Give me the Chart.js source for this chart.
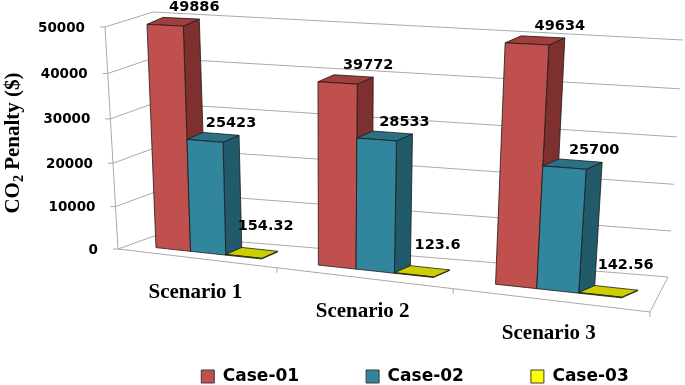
<!DOCTYPE html>
<html lang="en">
<head>
  <meta charset="UTF-8">
  <title>CO2 Penalty</title>
  <script src="https://cdn.jsdelivr.net/npm/chart.js@4.4.0/dist/chart.umd.min.js"></script>
  <style>
    html, body { margin: 0; padding: 0; background: #fff; }
    #chartContainer { width: 685px; height: 385px; }
  </style>
</head>
<body>
  <div id="chartContainer"><canvas id="chart"></canvas></div>
  <script>
    // data
    const scenarios = ['Scenario 1', 'Scenario 2', 'Scenario 3'];
    const seriesNames = ['Case-01', 'Case-02', 'Case-03'];
    const case01 = [49886, 39772, 49634];
    const case02 = [25423, 28533, 25700];
    const case03 = [154.32, 123.6, 142.56];
    const yTicks = [0, 10000, 20000, 30000, 40000, 50000];

    // corners of the 3d box: front plane and back wall (tl, tr, br, bl)
    const frontQuad = [[105, 27], [672, 53], [650, 312], [118, 249]];
    const backQuad = [[153, 12], [683, 40], [668, 277], [157, 235]];
    const barFront = 0.3;        // depth of the bars' front faces in the box
    const barDepth = [16, -7];   // on-screen depth of a bar

    const faces = [
      { front: '#C0504D', side: '#7D302E', top: '#A03F3C', label: [-5, -12] },
      { front: '#31859C', side: '#215A69', top: '#2A7186', label: [-8, -12] },
      { front: '#C8C800', side: '#8F8F00', top: '#CDCD00', label: [-12, -25] }
    ];

    // square -> quad projective map (tl, tr, br, bl)
    function quadMap(q) {
      const [x0, y0] = q[0], [x1, y1] = q[1], [x2, y2] = q[2], [x3, y3] = q[3];
      const dx1 = x1 - x2, dx2 = x3 - x2, dx3 = x0 - x1 + x2 - x3;
      const dy1 = y1 - y2, dy2 = y3 - y2, dy3 = y0 - y1 + y2 - y3;
      const den = dx1 * dy2 - dx2 * dy1;
      const g = (dx3 * dy2 - dx2 * dy3) / den;
      const h = (dx1 * dy3 - dx3 * dy1) / den;
      const a = x1 - x0 + g * x1, b = x3 - x0 + h * x3, c = x0;
      const d = y1 - y0 + g * y1, e = y3 - y0 + h * y3, f = y0;
      return function (u, v) {
        const z = g * u + h * v + 1;
        return [(a * u + b * v + c) / z, (d * u + e * v + f) / z];
      };
    }
    const frontMap = quadMap(frontQuad);
    const backMap = quadMap(backQuad);
    function P(u, v, w) {
      const f = frontMap(u, v), b = backMap(u, v);
      return [f[0] + (b[0] - f[0]) * w, f[1] + (b[1] - f[1]) * w];
    }
    function back(p) {
      return [p[0] + barDepth[0], p[1] + barDepth[1]];
    }

    function line(ctx, pts) {
      ctx.beginPath();
      ctx.moveTo(pts[0][0], pts[0][1]);
      for (let k = 1; k < pts.length; k++) ctx.lineTo(pts[k][0], pts[k][1]);
      ctx.stroke();
    }
    function poly(ctx, pts, fill) {
      ctx.beginPath();
      ctx.moveTo(pts[0][0], pts[0][1]);
      for (let k = 1; k < pts.length; k++) ctx.lineTo(pts[k][0], pts[k][1]);
      ctx.closePath();
      ctx.fillStyle = fill;
      ctx.fill();
      ctx.stroke();
    }

    const box3d = {
      id: 'box3d',
      beforeDatasetsDraw(chart) {
        const ctx = chart.ctx, area = chart.chartArea;
        const xs = chart.scales.x, ys = chart.scales.y;
        const U = px => (px - area.left) / area.width;
        const V = py => (py - area.top) / area.height;
        ctx.save();

        // walls and floor
        ctx.strokeStyle = '#a9a9a9';
        ctx.lineWidth = 1;
        yTicks.forEach(t => {
          const v = V(ys.getPixelForValue(t));
          line(ctx, [P(0, v, 0), P(0, v, 1), P(1, v, 1)]);
          const p = P(0, v, 0);
          line(ctx, [[p[0] - 5, p[1]], p]);
        });
        line(ctx, [P(0, 0, 0), P(0, 1, 0)]);
        line(ctx, [P(0, 1, 0), P(1, 1, 0), P(1, 1, 1)]);
        const half = (xs.getPixelForValue(1) - xs.getPixelForValue(0)) / 2;
        scenarios.forEach((s, j) => {
          const p = P(U(xs.getPixelForValue(j) + half), 1, 0);
          line(ctx, [p, [p[0], p[1] + 5]]);
        });

        // bars, left to right
        ctx.strokeStyle = '#1a1a1a';
        ctx.lineWidth = 0.8;
        ctx.lineJoin = 'round';
        const tops = [];
        scenarios.forEach((s, j) => {
          chart.data.datasets.forEach((ds, i) => {
            const el = chart.getDatasetMeta(i).data[j];
            const u0 = U(el.x - el.width / 2), u1 = U(el.x + el.width / 2);
            const vt = V(el.y), vb = V(el.base);
            const col = faces[i];
            const lt = P(u0, vt, barFront), rt = P(u1, vt, barFront);
            const rb = P(u1, vb, barFront), lb = P(u0, vb, barFront);
            poly(ctx, [rt, back(rt), back(rb), rb], col.side);
            poly(ctx, [lt, rt, back(rt), back(lt)], col.top);
            poly(ctx, [lt, rt, rb, lb], col.front);
            const q = back(rt);
            tops.push({ x: q[0] + col.label[0], y: q[1] + col.label[1], text: String(ds.data[j]) });
          });
        });

        // value labels
        ctx.fillStyle = '#000';
        ctx.font = 'bold 14.5px "DejaVu Sans"';
        ctx.textAlign = 'center';
        ctx.textBaseline = 'middle';
        tops.forEach(t => ctx.fillText(t.text, t.x, t.y));

        // y tick labels
        ctx.font = 'bold 13.5px "DejaVu Sans"';
        ctx.textAlign = 'right';
        yTicks.forEach(t => {
          const p = P(0, V(ys.getPixelForValue(t)), 0);
          ctx.fillText(String(t), p[0] - 20, p[1] + 1);
        });

        // category labels
        ctx.font = 'bold 21px "Liberation Serif"';
        ctx.textAlign = 'center';
        scenarios.forEach((s, j) => {
          const p = P(U(xs.getPixelForValue(j)), 1, 0);
          ctx.fillText(s, p[0], p[1] + 34);
        });

        // y axis title with subscript
        ctx.translate(12, 143);
        ctx.rotate(-Math.PI / 2);
        ctx.textAlign = 'left';
        ctx.textBaseline = 'alphabetic';
        const big = 'bold 21px "Liberation Serif"', small = 'bold 14px "Liberation Serif"';
        ctx.font = big;
        const wa = ctx.measureText('CO').width, wc = ctx.measureText(' Penalty ($)').width;
        ctx.font = small;
        const wb = ctx.measureText('2').width;
        let x = -(wa + wb + wc) / 2;
        ctx.font = big;
        ctx.fillText('CO', x, 7);
        x += wa;
        ctx.font = small;
        ctx.fillText('2', x, 11);
        x += wb;
        ctx.font = big;
        ctx.fillText(' Penalty ($)', x, 7);

        ctx.restore();
        return false;
      }
    };

    const ctx = document.getElementById('chart').getContext('2d');
    new Chart(ctx, {
      type: 'bar',
      data: {
        labels: scenarios,
        datasets: [
          { label: seriesNames[0], data: case01, backgroundColor: '#C0504D', borderColor: '#3a3a3a', borderWidth: 1 },
          { label: seriesNames[1], data: case02, backgroundColor: '#31849B', borderColor: '#3a3a3a', borderWidth: 1 },
          { label: seriesNames[2], data: case03, backgroundColor: '#FFFF00', borderColor: '#3a3a3a', borderWidth: 1 }
        ]
      },
      options: {
        responsive: true,
        maintainAspectRatio: false,
        animation: false,
        categoryPercentage: 0.66,
        barPercentage: 1.0,
        layout: { padding: { left: 95, right: -50, top: 0, bottom: -10 } },
        scales: {
          x: { display: false },
          y: { display: false, min: 0, max: 50000 }
        },
        plugins: {
          tooltip: { enabled: false },
          legend: {
            position: 'bottom',
            labels: {
              boxWidth: 13,
              boxHeight: 13,
              padding: 67,
              color: '#000',
              font: { family: 'DejaVu Sans', weight: 'bold', size: 17 }
            }
          }
        }
      },
      plugins: [box3d]
    });
  </script>
</body>
</html>
